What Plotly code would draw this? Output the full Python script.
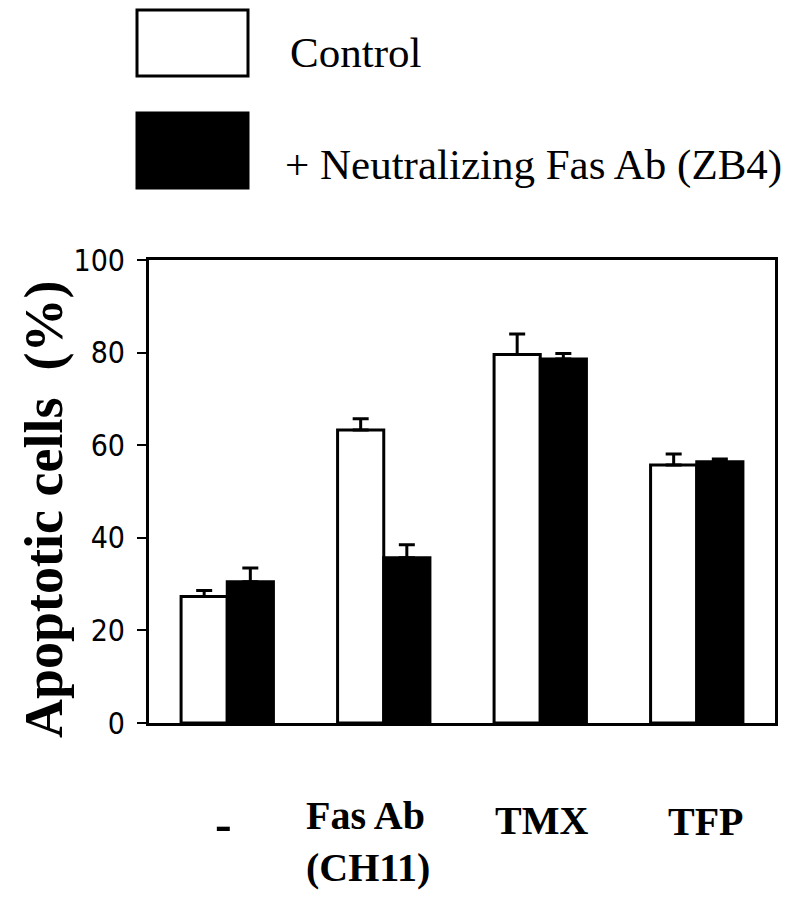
import plotly.graph_objects as go

categories = ["-", "Fas Ab (CH11)", "TMX", "TFP"]
tick_labels = ["-", "Fas Ab<br>(CH11)", "TMX", "TFP"]
control_vals = [27.3, 63.3, 79.6, 55.7]
control_err = [1.3, 2.4, 4.4, 2.4]
zb4_vals = [30.5, 35.7, 78.6, 56.4]
zb4_err = [3.0, 2.8, 1.2, 0.6]
series_names = ["Control", "+ Neutralizing Fas Ab (ZB4)"]
y_ticks = [0, 20, 40, 60, 80, 100]

OFF = 8  # page body margin
W, H = 792 - OFF, 900 - OFF
L, T = 149 - OFF, 260 - OFF
R = W - (775 - OFF)
B = H - (723 - OFF)
PW, PH = W - L - R, H - T - B

def px(xp):
    return (xp - OFF - L) / PW

def py(yp):
    return (H - B - (yp - OFF)) / PH

serif = "Liberation Serif, Times New Roman, serif"
narrow = "Liberation Sans Narrow, DejaVu Sans Condensed, Arial Narrow, sans-serif"

fig = go.Figure()
fig.add_trace(go.Bar(
    x=categories, y=control_vals, name=series_names[0],
    marker=dict(color="white", line=dict(color="black", width=3)),
    error_y=dict(type="data", array=control_err, arrayminus=[0]*4, symmetric=False,
                 color="black", thickness=3, width=8),
))
fig.add_trace(go.Bar(
    x=categories, y=zb4_vals, name=series_names[1],
    marker=dict(color="black", line=dict(color="black", width=3)),
    error_y=dict(type="data", array=zb4_err, arrayminus=[0]*4, symmetric=False,
                 color="black", thickness=3, width=8),
))

fig.update_layout(
    width=W, height=H, margin=dict(l=L, r=R, t=T, b=B),
    paper_bgcolor="white", plot_bgcolor="white",
    barmode="group", bargap=0.41, bargroupgap=0,
    showlegend=False,
    xaxis=dict(range=[-0.5, 3.5], showticklabels=False, ticks="",
               showline=True, linecolor="black", linewidth=3, mirror=True,
               showgrid=False, zeroline=False),
    yaxis=dict(range=[0, 100], tickvals=y_ticks, ticks="outside", ticklen=9,
               tickwidth=2, tickcolor="black",
               tickfont=dict(family=narrow, size=30, color="black"),
               ticklabelstandoff=6,
               showline=True, linecolor="black", linewidth=3, mirror=True,
               showgrid=False, zeroline=False),
)

# legend boxes
fig.add_shape(type="rect", xref="paper", yref="paper",
              x0=px(137), x1=px(248), y0=py(76), y1=py(10),
              fillcolor="white", line=dict(color="black", width=3))
fig.add_shape(type="rect", xref="paper", yref="paper",
              x0=px(137), x1=px(248), y0=py(188), y1=py(113),
              fillcolor="black", line=dict(color="black", width=3))
fig.add_annotation(text=series_names[0], xref="paper", yref="paper",
                   x=px(288), y=py(52), xanchor="left", yanchor="middle",
                   showarrow=False, font=dict(family=serif, size=43, color="black"))
fig.add_annotation(text=series_names[1], xref="paper", yref="paper",
                   x=px(283), y=py(165), xanchor="left", yanchor="middle",
                   showarrow=False, font=dict(family=serif, size=43, color="black"))

# y title
fig.add_annotation(text="<b>Apoptotic cells  (%)</b>", xref="paper", yref="paper",
                   x=px(44), y=py(510), xanchor="center", yanchor="middle",
                   textangle=-90, showarrow=False,
                   font=dict(family=serif, size=54, color="black"))

# x labels
xfont = dict(family=serif, size=40, color="black")
fig.add_annotation(text="<b>" + tick_labels[0] + "</b>", xref="x", yref="paper",
                   x=categories[0], xshift=-4, y=py(824), yanchor="middle",
                   showarrow=False, font=dict(family=serif, size=50, color="black"))
fig.add_annotation(text="<b>" + tick_labels[1] + "</b>", xref="x", yref="paper",
                   x=categories[1], xshift=-80, y=py(791), xanchor="left", yanchor="top",
                   align="left", showarrow=False, font=xfont)
fig.add_annotation(text="<b>" + tick_labels[2] + "</b>", xref="x", yref="paper",
                   x=categories[2], xshift=1, y=py(820), yanchor="middle",
                   showarrow=False, font=xfont)
fig.add_annotation(text="<b>" + tick_labels[3] + "</b>", xref="x", yref="paper",
                   x=categories[3], xshift=9, y=py(821), yanchor="middle",
                   showarrow=False, font=xfont)

fig.write_html("out.html")
